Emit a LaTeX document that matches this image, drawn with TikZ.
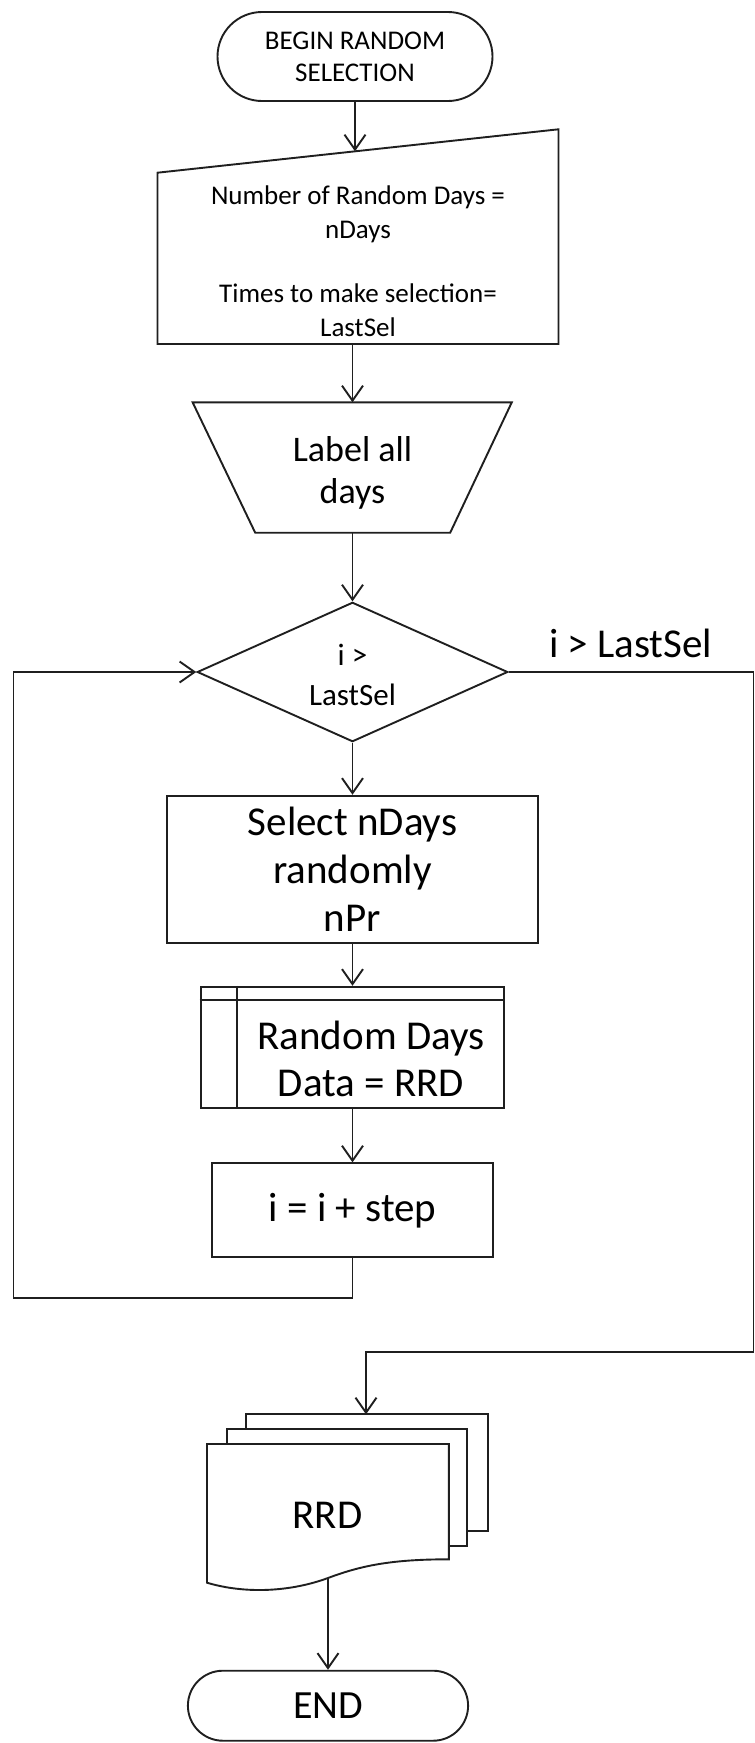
\documentclass[tikz,border=0pt]{standalone}
\usepackage{fontspec}
\setmainfont{Carlito}
\usetikzlibrary{arrows.meta,shapes.geometric,shapes.misc}
\begin{document}
\begin{tikzpicture}[x=1pt,y=-1pt,
  ink/.style={draw=black!88,line width=1.9pt},
  flow/.style={ink,-{Straight Barb[length=15pt,width=21pt]}},
  term/.style={ink,rounded rectangle,inner sep=0pt,align=center},
  box/.style={ink,rectangle,inner sep=0pt,align=center},
  txt/.style={inner sep=0pt,align=center,text=black},
  fsmall/.style={font=\fontsize{27}{32}\selectfont},
  fmid/.style={font=\fontsize{31}{40}\selectfont},
  flarge/.style={font=\fontsize{36}{41.7}\selectfont},
  fhuge/.style={font=\fontsize{41}{47}\selectfont}]
\useasboundingbox (0,0) rectangle (755,1743);

% start terminator
\node[term,fsmall,minimum width=275pt,minimum height=89pt] (start) at (355,56.5)
  {BEGIN RANDOM\\SELECTION};

% manual input block
\draw[ink] (157.5,172.7) -- (558.5,129.3) -- (558.5,344) -- (157.5,344) -- cycle;
\coordinate (inTop) at (355,151.3);
\coordinate (inBot) at (352.5,344);
\node[txt,fsmall,font=\fontsize{27}{34}\selectfont] (inputtxt) at (358,261)
  {Number of Random Days =\\nDays\\[30pt]Times to make selection=\\LastSel};

% manual operation (trapezoid)
\draw[ink] (192.6,402.3) -- (511.8,402.3) -- (450.2,532.7) -- (255.2,532.7) -- cycle;
\coordinate (trapTop) at (352.5,402.3);
\coordinate (trapBot) at (352.5,532.7);
\node[txt,flarge] (traptxt) at (352.5,473) {Label all\\days};

% decision
\node[ink,diamond,minimum width=310.6pt,minimum height=139.4pt,inner sep=0pt] (dec) at (352.5,672) {};
\node[txt,fmid] (dectxt) at (352.5,675) {i >\\LastSel};
\node[txt,fhuge] (yeslbl) at (630.8,643.3) {i > LastSel};

% process
\node[box,fhuge,minimum width=370.3pt,minimum height=147pt,font=\fontsize{41}{48.4}\selectfont] (proc) at (352.5,869.2)
  {Select nDays\\randomly\\nPr};

% internal storage
\node[box,minimum width=303.8pt,minimum height=121pt] (store) at (352.5,1047.2) {};
\draw[ink] ([xshift=37.6pt]store.north west) -- ([xshift=37.6pt]store.south west);
\draw[ink] ([yshift=-14.3pt]store.north west) -- ([yshift=-14.3pt]store.north east);
\node[txt,fhuge] (storetxt) at (371,1058.5) {Random Days\\Data = RRD};

% counter update
\node[box,fhuge,minimum width=281.2pt,minimum height=94pt] (stepbox) at (352.5,1210.3) {i = i + step};

% multi-document
\draw[ink,fill=white] (245.6,1414.3) rectangle (487.8,1530.7);
\draw[ink,fill=white] (227.3,1429) rectangle (467,1546);
\draw[ink,fill=white] (207,1444) -- (448.8,1444) -- (448.8,1559.3)
  .. controls (390,1559.3) and (360,1566) .. (328,1578)
  .. controls (290,1592) and (245,1594) .. (207,1582.7) -- cycle;
\node[txt,fhuge] (doctxt) at (327.4,1515) {RRD};
\coordinate (docTop) at (366,1414.3);
\coordinate (docBot) at (328,1578);

% end terminator
\node[term,fhuge,font=\fontsize{40}{46}\selectfont,minimum width=280.2pt,minimum height=70pt] (finish) at (328,1705.7) {END};

% connectors
\coordinate (loopBL) at (13.5,1297.7);
\coordinate (exitBR) at (753.5,1352.3);
\draw[flow] (start.south) -- (inTop);
\draw[flow] (inBot) -- (trapTop);
\draw[flow] (trapBot) -- (dec.north);
\draw[flow] (dec.south) -- (proc.north);
\draw[flow] (proc.south) -- (store.north);
\draw[flow] (store.south) -- (stepbox.north);
\draw[flow] (stepbox.south) |- (loopBL) |- (dec.west);
\draw[flow] (dec.east) -| (exitBR) -| (docTop);
\draw[flow] (docBot) -- (finish.north);
\end{tikzpicture}
\end{document}
